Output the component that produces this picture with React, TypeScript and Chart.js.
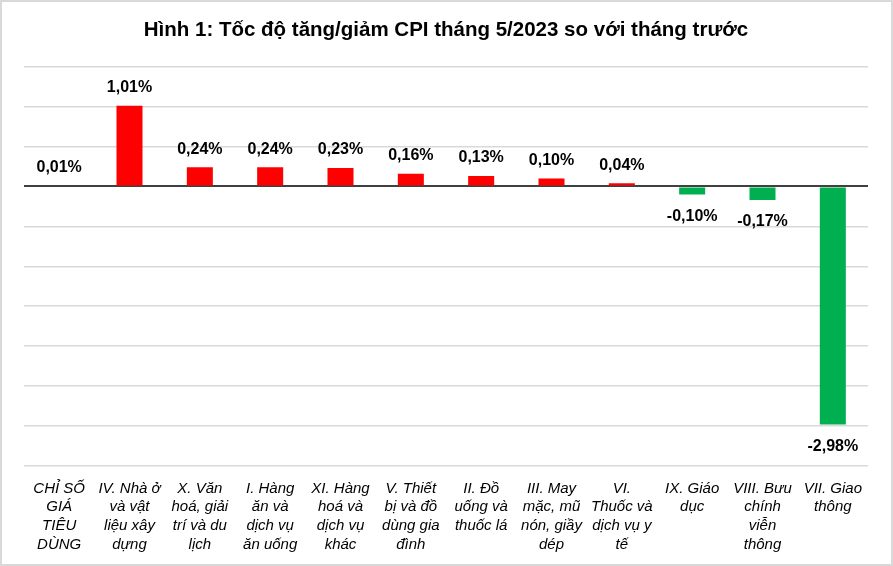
import { useEffect, useRef } from 'react';
import { Chart, registerables, Plugin } from 'chart.js';

Chart.register(...registerables);

const categories: string[][] = [
  ['CHỈ SỐ', 'GIÁ', 'TIÊU', 'DÙNG'],
  ['IV. Nhà ở', 'và vật', 'liệu xây', 'dựng'],
  ['X. Văn', 'hoá, giải', 'trí và du', 'lịch'],
  ['I. Hàng', 'ăn và', 'dịch vụ', 'ăn uống'],
  ['XI. Hàng', 'hoá và', 'dịch vụ', 'khác'],
  ['V. Thiết', 'bị và đồ', 'dùng gia', 'đình'],
  ['II. Đồ', 'uống và', 'thuốc lá'],
  ['III. May', 'mặc, mũ', 'nón, giầy', 'dép'],
  ['VI.', 'Thuốc và', 'dịch vụ y', 'tế'],
  ['IX. Giáo', 'dục'],
  ['VIII. Bưu', 'chính', 'viễn', 'thông'],
  ['VII. Giao', 'thông'],
];

const cpiChange: number[] = [0.01, 1.01, 0.24, 0.24, 0.23, 0.16, 0.13, 0.1, 0.04, -0.1, -0.17, -2.98];

const yMin = -3.5;
const yMax = 1.5;
const yStep = 0.5;

const FONT = "'Liberation Sans', Arial, sans-serif";

const fmt = (v: number) => v.toFixed(2).replace('.', ',') + '%';

// white background + light grey frame like the Excel chart area
const framePlugin: Plugin<'bar'> = {
  id: 'frame',
  beforeDraw(chart) {
    const { ctx, width, height } = chart;
    ctx.save();
    ctx.fillStyle = '#ffffff';
    ctx.fillRect(0, 0, width, height);
    ctx.restore();
  },
  afterDraw(chart) {
    const { ctx, width, height } = chart;
    ctx.save();
    ctx.strokeStyle = '#D9D9D9';
    ctx.lineWidth = 2;
    ctx.strokeRect(1, 1, width - 2, height - 2);
    ctx.restore();
  },
};

// value labels above / below each bar
const valueLabels: Plugin<'bar'> = {
  id: 'valueLabels',
  afterDatasetsDraw(chart) {
    const { ctx } = chart;
    const meta = chart.getDatasetMeta(0);
    const data = chart.data.datasets[0].data as number[];
    ctx.save();
    ctx.font = `bold 16px ${FONT}`;
    ctx.fillStyle = '#000000';
    ctx.textAlign = 'center';
    ctx.textBaseline = 'middle';
    meta.data.forEach((bar, i) => {
      const { x, y } = bar.getProps(['x', 'y'], true) as { x: number; y: number };
      const v = data[i];
      const ly = v >= 0 ? y - 18 : y + 22;
      ctx.fillText(fmt(v), x, ly);
    });
    ctx.restore();
  },
};

export default function App() {
  const canvasRef = useRef<HTMLCanvasElement | null>(null);
  const chartRef = useRef<Chart<'bar'> | null>(null);

  useEffect(() => {
    document.body.style.margin = '0';
    if (chartRef.current) chartRef.current.destroy();
    if (!canvasRef.current) return;

    chartRef.current = new Chart(canvasRef.current, {
      type: 'bar',
      data: {
        labels: categories,
        datasets: [
          {
            data: cpiChange,
            backgroundColor: cpiChange.map((v) => (v >= 0 ? '#FF0000' : '#00B050')),
            barPercentage: 0.37,
            categoryPercentage: 1,
          },
        ],
      },
      options: {
        animation: false,
        responsive: true,
        maintainAspectRatio: false,
        layout: { padding: { left: 24, right: 25, top: 0, bottom: 7 } },
        plugins: {
          legend: { display: false },
          tooltip: { enabled: false },
          title: {
            display: true,
            text: 'Hình 1: Tốc độ tăng/giảm CPI tháng 5/2023 so với tháng trước',
            color: '#000000',
            font: { family: FONT, size: 20.5, weight: 'bold' },
            padding: { top: 18, bottom: 24 },
          },
        },
        scales: {
          x: {
            grid: { display: false },
            border: { display: false },
            ticks: {
              color: '#000000',
              font: { family: FONT, size: 15, style: 'italic', lineHeight: 1.25 },
              padding: 5,
              maxRotation: 0,
              minRotation: 0,
              autoSkip: false,
            },
          },
          y: {
            min: yMin,
            max: yMax,
            border: { display: false },
            grid: {
              drawTicks: false,
              color: (c) => (Math.abs(c.tick.value) < 1e-9 ? '#404040' : '#D9D9D9'),
              lineWidth: (c) => (Math.abs(c.tick.value) < 1e-9 ? 2 : 1.5),
            },
            ticks: { display: false, stepSize: yStep },
          },
        },
      },
      plugins: [framePlugin, valueLabels],
    });

    return () => {
      if (chartRef.current) {
        chartRef.current.destroy();
        chartRef.current = null;
      }
    };
  }, []);

  return (
    <div style={{ position: 'relative', width: '893px', height: '566px' }}>
      <canvas ref={canvasRef}></canvas>
    </div>
  );
}
